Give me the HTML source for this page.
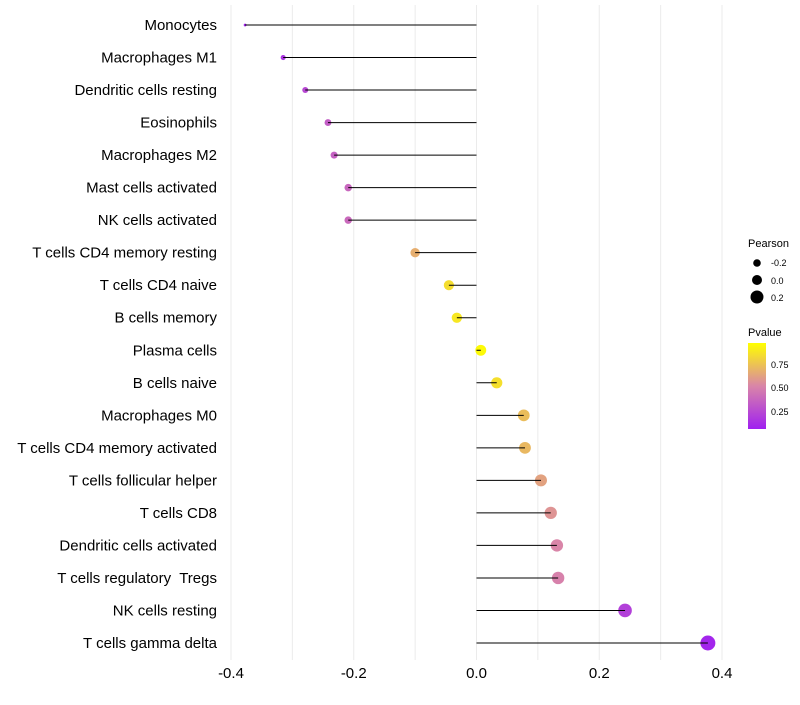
<!DOCTYPE html>
<html><head><meta charset="utf-8"><style>
body{margin:0;background:#fff;font-family:"Liberation Sans",sans-serif}
text{white-space:pre}
</style></head><body>
<svg id="chart" width="800" height="700" xmlns="http://www.w3.org/2000/svg">
<defs><linearGradient id="pg" x1="0" y1="1" x2="0" y2="0">
<stop offset="0" stop-color="#a020f0"/><stop offset="0.5" stop-color="#d985a8"/><stop offset="1" stop-color="#ffff00"/>
</linearGradient></defs>
<g id="grid"></g><g id="points"></g><g id="marks"></g><g id="labels"></g>
<g font-size="10" fill="#000">
<text x="748" y="247" font-size="11">Pearson</text>
<circle cx="757" cy="263" r="3.8" fill="#000"/><text x="771" y="266" font-size="9">-0.2</text>
<circle cx="757" cy="280" r="5" fill="#000"/><text x="771" y="284" font-size="9">0.0</text>
<circle cx="757" cy="297" r="6.5" fill="#000"/><text x="771" y="301" font-size="9">0.2</text>
<text x="748" y="336" font-size="11">Pvalue</text>
<rect x="748" y="343" width="18" height="86" fill="url(#pg)"/>
<text x="771" y="368" font-size="9">0.75</text>
<text x="771" y="391" font-size="9">0.50</text>
<text x="771" y="415" font-size="9">0.25</text>
</g>
</svg>
<script>
const categories=["Monocytes","Macrophages M1","Dendritic cells resting","Eosinophils","Macrophages M2","Mast cells activated","NK cells activated","T cells CD4 memory resting","T cells CD4 naive","B cells memory","Plasma cells","B cells naive","Macrophages M0","T cells CD4 memory activated","T cells follicular helper","T cells CD8","Dendritic cells activated","T cells regulatory  Tregs","NK cells resting","T cells gamma delta"];
const pearson=[-0.377,-0.315,-0.279,-0.242,-0.232,-0.209,-0.209,-0.100,-0.045,-0.032,0.007,0.033,0.077,0.079,0.105,0.121,0.131,0.133,0.242,0.377];
const pvalue=[0.02,0.1,0.2,0.3,0.32,0.35,0.36,0.67,0.86,0.9,0.98,0.87,0.73,0.71,0.62,0.56,0.5,0.48,0.16,0.03];
const xTicks=[-0.4,-0.2,0.0,0.2,0.4];
const xTickLabels=["-0.4","-0.2","0.0","0.2","0.4"];
const gridVals=[-0.4,-0.3,-0.2,-0.1,0,0.1,0.2,0.3,0.4];
const NS="http://www.w3.org/2000/svg";
const xs=v=>476.5+v*613.75;
const ys=i=>25+i*(618/19);
function col(p){const a=[160,32,240],m=[217,133,168],b=[255,255,0];let c0,c1,t;if(p<0.5){c0=a;c1=m;t=p/0.5}else{c0=m;c1=b;t=(p-0.5)/0.5}return`rgb(${c0.map((c,k)=>Math.round(c+(c1[k]-c)*t)).join(',')})`}
function mk(tag,at,par){const e=document.createElementNS(NS,tag);for(const k in at)e.setAttribute(k,at[k]);document.getElementById(par).appendChild(e);return e}
gridVals.forEach(v=>{const l=mk('line',{x1:xs(v),x2:xs(v),y1:5,y2:660,stroke:'#ebebeb','stroke-width':1},'grid');

});
xTicks.forEach((v,i)=>{const t=mk('text',{x:xs(v),y:678,'text-anchor':'middle','font-size':15,fill:'#000'},'labels');t.textContent=xTickLabels[i];

});
categories.forEach((c,i)=>{const y=ys(i);
const t=mk('text',{x:217,y:y+5,'text-anchor':'end','font-size':15,fill:'#000'},'labels');t.textContent=c;


const l=mk('line',{x1:xs(0),x2:xs(pearson[i]),y1:y,y2:y,stroke:'#000','stroke-width':1},'marks');


const r=Math.sqrt(Math.max(2,2+54*(pearson[i]+0.377)/0.754));
const d=mk('circle',{cx:xs(pearson[i]),cy:y,r:r,fill:col(pvalue[i])},'points');

});
</script>
</body></html>
